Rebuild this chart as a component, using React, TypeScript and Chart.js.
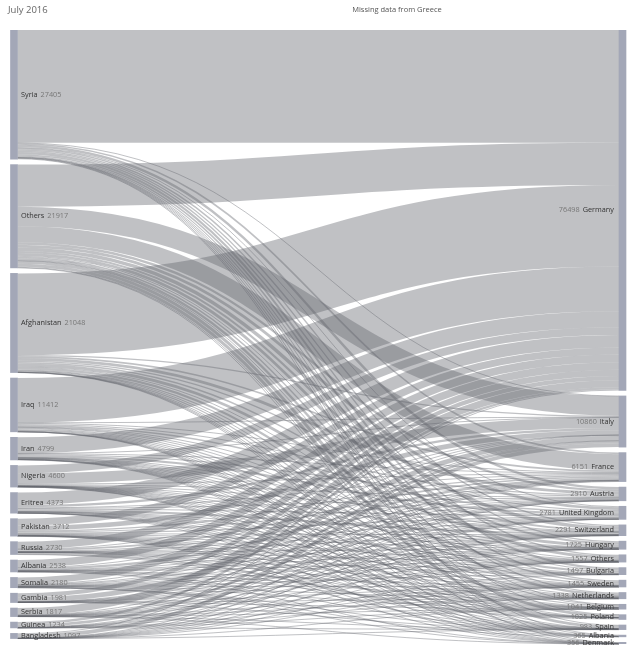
import React, { useEffect, useRef } from 'react';
import { Chart, registerables } from 'chart.js';

Chart.register(...registerables);

// ---- data ----
const origins = ['Syria', 'Others', 'Afghanistan', 'Iraq', 'Iran', 'Nigeria', 'Eritrea', 'Pakistan', 'Russia', 'Albania', 'Somalia', 'Gambia', 'Serbia', 'Guinea', 'Bangladesh'];
const originTotals = [27405, 21917, 21048, 11412, 4799, 4600, 4373, 3712, 2730, 2538, 2180, 1981, 1817, 1234, 1097];

const destinations = ['Germany', 'Italy', 'France', 'Austria', 'United Kingdom', 'Switzerland', 'Hungary', 'Others', 'Bulgaria', 'Sweden', 'Netherlands', 'Belgium', 'Poland', 'Spain', 'Albania', 'Denmark'];
const destinationTotals = [76498, 10860, 6151, 2910, 2781, 2291, 1725, 1557, 1497, 1455, 1338, 1041, 1025, 983, 365, 356];

// flows from each origin, in destination order (estimated)
const fromSyria = [23950, 60, 350, 500, 200, 300, 250, 300, 450, 330, 220, 140, 5, 130, 60, 160];
const fromOthers = [8920, 4155, 3421, 485, 596, 736, 437, 590, 208, 308, 478, 64, 626, 644, 207, 32];
const fromAfghanistan = [17348, 250, 350, 600, 250, 350, 600, 200, 450, 250, 80, 250, 5, 5, 20, 40];
const fromIraq = [9450, 80, 200, 250, 300, 100, 150, 100, 250, 180, 120, 200, 2, 10, 10, 10];
const fromIran = [3400, 50, 80, 250, 450, 80, 30, 100, 20, 80, 120, 40, 2, 20, 20, 57];
const fromNigeria = [1670, 2200, 150, 200, 100, 50, 5, 50, 5, 20, 30, 30, 2, 80, 3, 5];
const fromEritrea = [2640, 500, 200, 20, 250, 450, 5, 50, 2, 100, 120, 20, 1, 5, 0, 10];
const fromPakistan = [1510, 1000, 250, 150, 300, 20, 200, 50, 100, 10, 10, 30, 2, 30, 40, 10];
const fromRussia = [1600, 5, 350, 200, 20, 20, 5, 30, 5, 30, 20, 60, 380, 5, 0, 0];
const fromAlbania = [1602, 50, 500, 20, 150, 20, 1, 20, 0, 40, 40, 80, 0, 5, 0, 10];
const fromSomalia = [1358, 150, 30, 150, 100, 80, 20, 40, 5, 60, 80, 80, 0, 2, 5, 20];
const fromGambia = [860, 1000, 20, 10, 10, 20, 1, 10, 0, 10, 5, 5, 0, 30, 0, 0];
const fromSerbia = [1510, 10, 80, 60, 10, 50, 20, 10, 0, 30, 10, 20, 0, 5, 0, 2];
const fromGuinea = [500, 550, 120, 10, 5, 10, 0, 5, 0, 5, 5, 20, 0, 4, 0, 0];
const fromBangladesh = [180, 800, 50, 5, 40, 5, 1, 2, 2, 2, 0, 2, 0, 8, 0, 0];

const flowMatrix = [fromSyria, fromOthers, fromAfghanistan, fromIraq, fromIran, fromNigeria, fromEritrea, fromPakistan, fromRussia, fromAlbania, fromSomalia, fromGambia, fromSerbia, fromGuinea, fromBangladesh];

const titleLeft = 'July 2016';
const titleCenter = 'Missing data from Greece';

// ---- layout / style ----
const NODE_PAD = 1165; // gap between nodes, in value units
const BAR = 7;
const NODE_COLOR = '#a3a7b7';
const FLOW_COLOR = 'rgba(98,100,108,0.40)';
const FONT = '"Open Sans", "DejaVu Sans", sans-serif';
const LABEL_SIZE = 7.3;

function stack(values: number[]) {
  const starts: number[] = [];
  let acc = 0;
  values.forEach((v) => {
    starts.push(acc);
    acc += v + NODE_PAD;
  });
  return { starts, end: acc - NODE_PAD };
}

const left = stack(originTotals);
const right = stack(destinationTotals);
const Y_MAX = Math.max(left.end, right.end);

const sankeyPlugin = {
  id: 'sankeyFlows',
  beforeDatasetsDraw(chart: any) {
    const { ctx } = chart;
    const x = chart.scales.x;
    const y = chart.scales.y;
    const x0 = x.getPixelForValue(0) + BAR / 2;
    const x1 = x.getPixelForValue(1) - BAR / 2;
    const xm = (x0 + x1) / 2;
    const srcOff = left.starts.slice();
    const tgtOff = right.starts.slice();
    ctx.save();
    ctx.strokeStyle = FLOW_COLOR;
    ctx.lineCap = 'butt';
    flowMatrix.forEach((row, i) => {
      row.forEach((v, j) => {
        if (!v) return;
        const sMid = srcOff[i] + v / 2;
        const tMid = tgtOff[j] + v / 2;
        srcOff[i] += v;
        tgtOff[j] += v;
        const ys = y.getPixelForValue(sMid);
        const yt = y.getPixelForValue(tMid);
        const w = Math.abs(y.getPixelForValue(v) - y.getPixelForValue(0));
        ctx.lineWidth = Math.max(1, w);
        ctx.beginPath();
        ctx.moveTo(x0, ys);
        ctx.bezierCurveTo(xm, ys, xm, yt, x1, yt);
        ctx.stroke();
      });
    });
    ctx.restore();
  },
  afterDatasetsDraw(chart: any) {
    const { ctx } = chart;
    const x = chart.scales.x;
    const y = chart.scales.y;
    const lx = x.getPixelForValue(0) + BAR / 2 + 3.5;
    const rx = x.getPixelForValue(1) - BAR / 2 - 5;
    ctx.save();
    ctx.font = `${LABEL_SIZE}px ${FONT}`;
    ctx.textBaseline = 'middle';
    origins.forEach((name, i) => {
      const cy = y.getPixelForValue(left.starts[i] + originTotals[i] / 2);
      ctx.textAlign = 'left';
      ctx.fillStyle = '#333';
      ctx.fillText(name, lx, cy);
      const w = ctx.measureText(name).width;
      ctx.fillStyle = '#777';
      ctx.fillText(String(originTotals[i]), lx + w + 3, cy);
    });
    destinations.forEach((name, j) => {
      const cy = y.getPixelForValue(right.starts[j] + destinationTotals[j] / 2);
      ctx.textAlign = 'right';
      ctx.fillStyle = '#333';
      ctx.fillText(name, rx, cy);
      const w = ctx.measureText(name).width;
      ctx.fillStyle = '#777';
      ctx.fillText(String(destinationTotals[j]), rx - w - 3, cy);
    });
    // titles
    ctx.textBaseline = 'middle';
    ctx.textAlign = 'left';
    ctx.fillStyle = '#666';
    ctx.font = `9.5px ${FONT}`;
    ctx.fillText(titleLeft, 8, 10);
    ctx.textAlign = 'center';
    ctx.fillStyle = '#555';
    ctx.font = `7.5px ${FONT}`;
    ctx.fillText(titleCenter, 397, 10);
    ctx.restore();
  },
};

export default function App() {
  const ref = useRef<HTMLCanvasElement | null>(null);

  useEffect(() => {
    document.body.style.margin = '0';
    const canvas = ref.current;
    if (!canvas) return;
    const spanPx = 608.5; // distance between node centres
    const xMin = -14 / spanPx;
    const xMax = xMin + 640 / spanPx;
    const chart = new Chart(canvas, {
      type: 'bar',
      data: {
        datasets: [
          {
            label: 'Origins',
            data: originTotals.map((v, i) => ({ x: 0, y: [left.starts[i], left.starts[i] + v] })) as any,
            backgroundColor: NODE_COLOR,
            borderWidth: 0,
            barThickness: BAR,
            grouped: false,
          } as any,
          {
            label: 'Destinations',
            data: destinationTotals.map((v, j) => ({ x: 1, y: [right.starts[j], right.starts[j] + v] })) as any,
            backgroundColor: NODE_COLOR,
            borderWidth: 0,
            barThickness: BAR,
            grouped: false,
          } as any,
        ],
      },
      options: {
        animation: false,
        responsive: false,
        maintainAspectRatio: false,
        events: [],
        layout: { padding: { top: 30, bottom: 9, left: 0, right: 0 } },
        plugins: { legend: { display: false }, tooltip: { enabled: false }, title: { display: false } },
        scales: {
          x: { type: 'linear', min: xMin, max: xMax, offset: false, bounds: 'ticks', display: false },
          y: { type: 'linear', min: 0, max: Y_MAX, reverse: true, display: false },
        },
      },
      plugins: [sankeyPlugin],
    });
    return () => chart.destroy();
  }, []);

  return (
    <div style={{ position: 'absolute', left: 0, top: 0, width: 640, height: 653 }}>
      <canvas ref={ref} width={640} height={653} />
    </div>
  );
}
